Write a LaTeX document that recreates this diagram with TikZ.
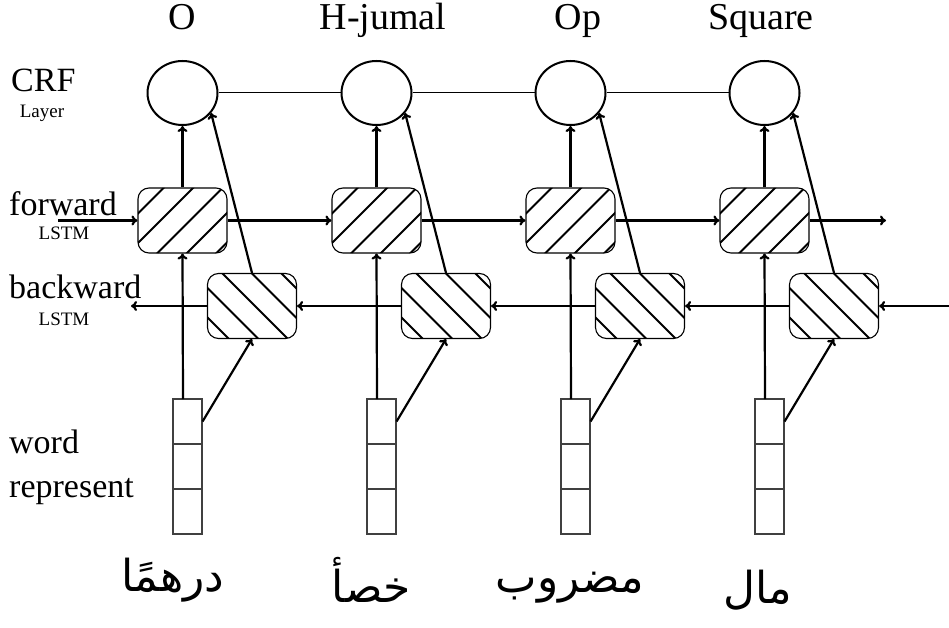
\documentclass[tikz,border=0pt]{standalone}
\usepackage{fontspec}
\setmainfont{Liberation Serif}
\newfontfamily\arabicfont[Script=Arabic]{DejaVu Sans}
\TeXXeTstate=1
\usetikzlibrary{arrows.meta,shapes.geometric,calc}
\tikzset{
  conn/.style={line width=2.2pt,-{To[length=6pt,width=10pt]}},
  crf/.style={ellipse,draw,line width=2pt,minimum width=70pt,minimum height=64pt,inner sep=0pt},
  fwdbox/.style={draw,line width=1.1pt,rounded corners=11pt,minimum width=89pt,minimum height=65pt,inner sep=0pt,
    path picture={\foreach \k in {-3,...,3}{
      \draw[line width=2pt] ($(path picture bounding box.center)+(\k*29.5pt+7.5pt,0pt)+(-60pt,-60pt)$) -- ++(120pt,120pt);}}},
  bwdbox/.style={draw,line width=1.1pt,rounded corners=11pt,minimum width=89pt,minimum height=65pt,inner sep=0pt,
    path picture={\foreach \k in {-3,...,3}{
      \draw[line width=2pt] ($(path picture bounding box.center)+(\k*29.5pt+3pt,0pt)+(-60pt,60pt)$) -- ++(120pt,-120pt);}}},
  cell/.style={draw=black!75,line width=1.1pt,minimum width=29pt,minimum height=45pt,inner sep=0pt},
  biglab/.style={font=\fontsize{38}{42}\selectfont,inner sep=0pt},
  sidelab/.style={font=\fontsize{34}{38}\selectfont,inner sep=0pt,anchor=base west},
  smalllab/.style={font=\fontsize{19}{21}\selectfont,inner sep=0pt,anchor=base},
  arlab/.style={font=\arabicfont\fontsize{44}{52}\selectfont,inner sep=0pt}
}
\begin{document}
\begin{tikzpicture}[x=1pt,y=-1pt]
\useasboundingbox[fill=white] (0,0) rectangle (949,628);
% top labels
\node[biglab,anchor=base] (t1) at (182,30) {O};
\node[biglab,anchor=base] (t2) at (383,30) {H-jumal};
\node[biglab,anchor=base] (t3) at (578,30) {Op};
\node[biglab,anchor=base] (t4) at (761,30) {Square};
% side labels
\node[sidelab] (l1) at (11,92) {CRF};
\node[smalllab] (l2) at (42,118) {Layer};
\node[sidelab] (l3) at (9,215) {forward};
\node[smalllab] (l4) at (64,240) {LSTM};
\node[sidelab] (l5) at (9,298) {backward};
\node[smalllab] (l6) at (64,325) {LSTM};
\node[sidelab] (l7) at (9,453) {word};
\node[sidelab] (l8) at (9,497) {represent};
% columns
\foreach \i in {1,2,3,4}{
  \pgfmathsetmacro{\dx}{194*(\i-1)}
  \node[crf] (c\i) at (182.5+\dx,93) {};
  \node[fwdbox] (f\i) at (182.5+\dx,220.5) {};
  \node[bwdbox] (b\i) at (252+\dx,306) {};
  \node[cell] (wa\i) at (187.5+\dx,421.5) {};
  \node[cell] (wb\i) at (187.5+\dx,466.5) {};
  \node[cell] (wc\i) at (187.5+\dx,511.5) {};
  \coordinate (ws\i) at (183+\dx,399);
}
\foreach \i in {1,2,3,4}{
  \draw[conn] (ws\i) -- (f\i.south);
  \draw[conn] (wa\i.east) -- (b\i.south);
  \draw[conn] (f\i.north) -- (c\i.south);
  \draw[conn] (b\i.north) -- (c\i.-35);
}
% CRF chain
\draw[line width=1pt] (c1.east) -- (c2.west) (c2.east) -- (c3.west) (c3.east) -- (c4.west);
% forward chain
\coordinate (fin) at (58,220.5);
\coordinate (fout) at (886,220.5);
\draw[conn] (fin) -- (f1.west);
\draw[conn] (f1.east) -- (f2.west);
\draw[conn] (f2.east) -- (f3.west);
\draw[conn] (f3.east) -- (f4.west);
\draw[conn] (f4.east) -- (fout);
% backward chain
\coordinate (bin) at (949,306);
\coordinate (bout) at (131,306);
\draw[conn] (bin) -- (b4.east);
\draw[conn] (b4.west) -- (b3.east);
\draw[conn] (b3.west) -- (b2.east);
\draw[conn] (b2.west) -- (b1.east);
\draw[conn] (b1.west) -- (bout);
% words
\node[arlab] (a1) at (173,580) {\beginR درهمًا\endR};
\node[arlab] (a2) at (371,580) {\beginR خصأ\endR};
\node[arlab] (a3) at (570,588) {\beginR مضروب\endR};
\node[arlab] (a4) at (758,590) {\beginR مال\endR};
\end{tikzpicture}
\end{document}
